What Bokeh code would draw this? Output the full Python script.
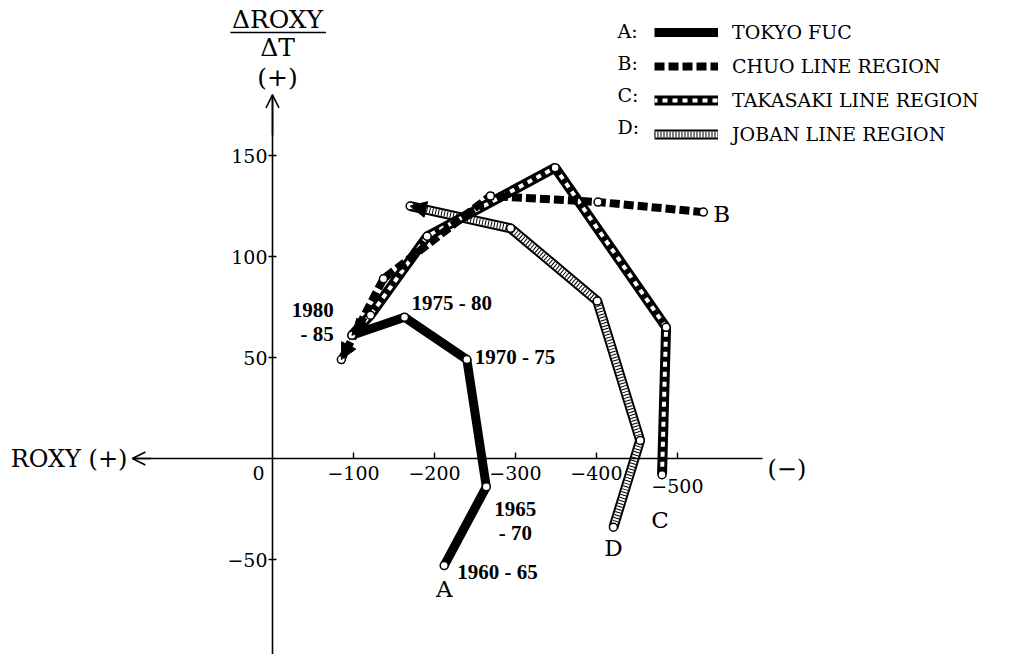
from bokeh.plotting import figure
from bokeh.models import (Range1d, LinearAxis, FixedTicker, Arrow, OpenHead, NormalHead,
                          Label, Legend, LegendItem)
from bokeh.embed import file_html
from bokeh.resources import INLINE

# ---- data: x = ROXY (negative to the right), y = dROXY/dT ----
a_x = [-212, -264, -240, -163, -98]
a_y = [-53, -14, 49, 70, 61]
a_periods = ["1960 - 65", "1965\n- 70", "1970 - 75", "1975 - 80", "1980\n- 85"]
b_x = [-532, -402, -269, -137, -85]
b_y = [122, 127, 130, 89, 49]
c_x = [-481, -486, -349, -191, -121, -98]
c_y = [-8, 65, 144, 110, 71, 61]
d_x = [-421, -454, -401, -294, -170]
d_y = [-34, 9, 78, 114, 125]

series_letters = ["A", "B", "C", "D"]
series_names = ["TOKYO FUC", "CHUO LINE REGION", "TAKASAKI LINE REGION", "JOBAN LINE REGION"]
x_ticks = [-100, -200, -300, -400, -500]
y_ticks = [150, 100, 50, -50]

SERIF = "DejaVu Serif"

p = figure(width=1013, height=654, output_backend="svg", toolbar_location=None,
           x_axis_type=None, y_axis_type=None,
           x_range=Range1d(326, -915), y_range=Range1d(-97, 222.8),
           min_border=0, min_border_left=8, min_border_top=8,
           outline_line_color=None, background_fill_color="white")

# ---- axes through the origin ----
x_labels = {t: "\u2212" + str(-t) for t in x_ticks}
x_labels[-500] = ""
xaxis = LinearAxis(fixed_location=0, ticker=FixedTicker(ticks=x_ticks),
                   major_label_overrides=x_labels, bounds=(-605, 173))
xaxis.major_tick_in = 6
xaxis.major_tick_out = 0
xaxis.minor_tick_in = 0
xaxis.minor_tick_out = 0
xaxis.axis_line_width = 1.6
xaxis.major_tick_line_width = 1.4
xaxis.major_label_standoff = 7
xaxis.major_label_text_font = SERIF
xaxis.major_label_text_font_size = "19px"
xaxis.major_label_text_color = "black"
p.add_layout(xaxis, "below")

yaxis = LinearAxis(fixed_location=0, ticker=FixedTicker(ticks=y_ticks),
                   major_label_overrides={t: ("\u2212" + str(-t)) if t < 0 else str(t) for t in y_ticks},
                   bounds=(-100, 180))
yaxis.major_tick_in = 4
yaxis.major_tick_out = 4
yaxis.minor_tick_in = 0
yaxis.minor_tick_out = 0
yaxis.axis_line_width = 1.6
yaxis.major_tick_line_width = 1.4
yaxis.major_label_standoff = 1
yaxis.major_label_text_font = SERIF
yaxis.major_label_text_font_size = "19px"
yaxis.major_label_text_color = "black"
p.add_layout(yaxis, "left")

# axis arrow heads
p.add_layout(Arrow(x_start=150, y_start=0, x_end=173, y_end=0, line_width=1.6,
                   end=OpenHead(size=13, line_width=1.6)))
p.add_layout(Arrow(x_start=0, y_start=160, x_end=0, y_end=180, line_width=1.6,
                   end=OpenHead(size=13, line_width=1.6)))

def lab(**kw):
    kw.setdefault("text_color", "black")
    kw.setdefault("text_font", SERIF)
    p.add_layout(Label(**kw))

lab(x=0, y=0, text="0", x_offset=-14, y_offset=-7, text_align="center",
    text_baseline="top", text_font_size="19px")
lab(x=-500, y=0, text="\u2212500", x_offset=0, y_offset=-20, text_align="center",
    text_baseline="top", text_font_size="19px")
lab(x=173, y=0, text="ROXY (+)", x_offset=-5, y_offset=0, text_align="right",
    text_baseline="middle", text_font_size="24px")
lab(x=-605, y=0, text="(\u2212)", x_offset=5, y_offset=-10, text_align="left",
    text_baseline="middle", text_font_size="24px")

# y-axis title (fraction)
for txt, off in [("\u0394ROXY", 75), ("\u0394T", 47), ("(+)", 17)]:
    lab(x=0, y=180, text=txt, x_offset=5, y_offset=off, text_align="center",
        text_baseline="middle", text_font_size="25px")
p.segment(x0=[52], y0=[210.9], x1=[-66], y1=[210.9], line_color="black", line_width=1.6)

# ---- series ----
# D: ladder
d1 = p.line(d_x, d_y, line_color="black", line_width=10)
d2 = p.line(d_x, d_y, line_color="white", line_width=6)
d3 = p.line(d_x, d_y, line_color="black", line_width=6, line_dash="1 2")
# C: black with white squares
c1 = p.line(c_x, c_y, line_color="black", line_width=10)
c2 = p.line(c_x, c_y, line_color="white", line_width=4, line_dash="5 5", line_dash_offset=2)
# B: dashed black
b1 = p.line(b_x, b_y, line_color="black", line_width=8, line_dash="10 4")
# A: solid black
a1 = p.line(a_x, a_y, line_color="black", line_width=9)

# arrow heads at the last period
for xs, ys in [(d_x, d_y), (c_x, c_y), (b_x, b_y)]:
    p.add_layout(Arrow(x_start=xs[-2], y_start=ys[-2], x_end=xs[-1], y_end=ys[-1],
                       line_alpha=0,
                       end=NormalHead(size=16, fill_color="black", line_color="black")))

for xs, ys in [(d_x, d_y), (c_x, c_y), (b_x, b_y), (a_x, a_y)]:
    p.scatter(xs, ys, marker="circle", size=8, fill_color="white", line_color="black",
              line_width=1.5)

# period labels on A
period_offsets = [(13, -6, "left", "middle"), (29, -10, "center", "top"),
                  (8, 3, "left", "middle"), (7, 14, "left", "middle"),
                  (-18, 37, "right", "top")]
for i, txt in enumerate(a_periods):
    dx, dy, al, bl = period_offsets[i]
    lab(x=a_x[i], y=a_y[i], text=txt, x_offset=dx, y_offset=dy,
        text_align=al, text_baseline=bl, text_font="Liberation Serif",
        text_font_style="bold", text_font_size="21px", text_line_height=1.0)

# series letters at the first period
letter_offsets = [(0, -23, "center"), (10, -2, "left"), (-2, -45, "center"), (0, -21, "center")]
for (xs, ys), letter, (dx, dy, al) in zip([(a_x, a_y), (b_x, b_y), (c_x, c_y), (d_x, d_y)],
                                          series_letters, letter_offsets):
    lab(x=xs[0], y=ys[0], text=letter, x_offset=dx, y_offset=dy,
        text_align=al, text_baseline="middle", text_font_size="23px")

# ---- legend ----
legend = Legend(items=[LegendItem(label=series_names[0], renderers=[a1]),
                       LegendItem(label=series_names[1], renderers=[b1]),
                       LegendItem(label=series_names[2], renderers=[c1, c2]),
                       LegendItem(label=series_names[3], renderers=[d1, d2, d3])],
                location=(646, 509), orientation="vertical", glyph_width=64, glyph_height=20,
                label_height=20, spacing=12, padding=0, margin=0, label_standoff=14,
                border_line_color=None, background_fill_alpha=0,
                label_text_font=SERIF, label_text_font_size="19px",
                label_text_color="black")
p.add_layout(legend)
for i, letter in enumerate(series_letters):
    lab(x=609, y=624 - 32 * i, x_units="screen", y_units="screen",
        text=letter + ":", text_align="left", text_baseline="middle",
        text_font_size="19px")

open("out.html", "w").write(file_html(p, INLINE))
